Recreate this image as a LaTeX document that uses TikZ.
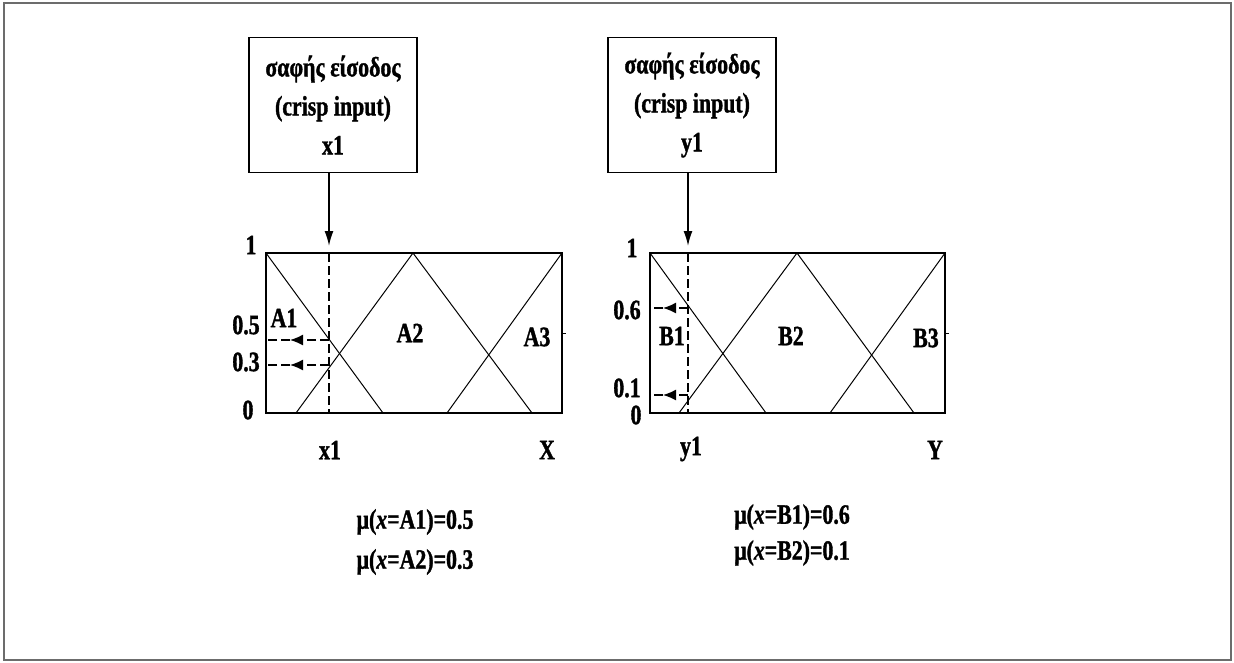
\documentclass[tikz,border=0pt]{standalone}
\usepackage{fontspec}
\setmainfont{Liberation Serif}[FakeStretch=0.78,FakeBold=1.2]
\usetikzlibrary{arrows.meta}

\begin{document}
\begin{tikzpicture}[x=1pt,y=-1pt,
  txt/.style={font=\fontsize{28}{39}\selectfont\bfseries,inner sep=0pt},
  inbox/.style={draw,line width=1.5pt,minimum width=168pt,minimum height=135pt,align=center,txt},
  chart/.style={draw,line width=2pt},
  mf/.style={line width=1pt},
  cut/.style={line width=1.4pt,dash pattern=on 9pt off 4pt},
  feed/.style={line width=1.6pt,-{Latex[length=15pt,width=9pt]}},
  hit/.style={line width=1.4pt,dash pattern=on 9pt off 4pt,-{Latex[length=13pt,width=11pt]}}]
  \useasboundingbox (0,0) rectangle (1234,662);
  \draw[gray!85!black,line width=2pt] (4,3) rectangle (1231,660);

  % input boxes
  \node[inbox] (inA) at (333,105) {σαφής είσοδος\\(crisp input)\\x1};
  \node[inbox] (inB) at (692,105) {σαφής είσοδος\\(crisp input)\\y1};
  \coordinate (ax) at (329,246);
  \coordinate (ay) at (688,246);
  \draw[feed] (inA.south -| ax) -- (ax);
  \draw[feed] (inB.south -| ay) -- (ay);

  % left chart, input x1
  \draw[chart] (266,253) rectangle (562,413);
  \draw[mf] (266,253) -- (383,413);
  \draw[mf] (296,413) -- (413,253) -- (532,413);
  \draw[mf] (447,413) -- (562,253);
  \draw[line width=1pt] (562,333) -- ++(4,0); % tick
  \draw[cut] (329,253) -- (329,413);
  \foreach \y in {340,365}{
    \draw[hit] (329,\y) -- (290,\y);
    \draw[cut] (290,\y) -- (266,\y);
  }

  % right chart, input y1
  \draw[chart] (650,253) rectangle (945,413);
  \draw[mf] (650,253) -- (766,413);
  \draw[mf] (679,413) -- (797,253) -- (914,413);
  \draw[mf] (830,413) -- (945,253);
  \draw[line width=1pt] (945,333) -- ++(4,0); % tick
  \draw[cut] (688,253) -- (688,413);
  \foreach \y in {308,395}{
    \draw[hit] (688,\y) -- (663,\y);
    \draw[cut] (663,\y) -- (650,\y);
  }

  % labels
  \foreach \n/\x/\y/\t in {la1/251/245/1, la5/246/325/0.5, la3/246/362/0.3, la0/248/410/0,
    lA1/284/318/A1, lA2/410/333/A2, lA3/537/337/A3, lx/330/450/x1, lX/547/450/X,
    lb1/632/248/1, lb6/627/310/0.6, lb10/627/388/0.1, lb0/636/415/0,
    lB1/672/336/B1, lB2/791/336/B2, lB3/926/338/B3, ly/691/449/y1, lY/935/450/Y}{
    \node[txt] (\n) at (\x,\y) {\t};
  }
  \node[txt] (muA1) at (415,522) {μ(\textit{x}=A1)=0.5};
  \node[txt] (muA2) at (415,562) {μ(\textit{x}=A2)=0.3};
  \node[txt] (muB1) at (792,517) {μ(\textit{x}=B1)=0.6};
  \node[txt] (muB2) at (792,553) {μ(\textit{x}=B2)=0.1};
\end{tikzpicture}
\end{document}
